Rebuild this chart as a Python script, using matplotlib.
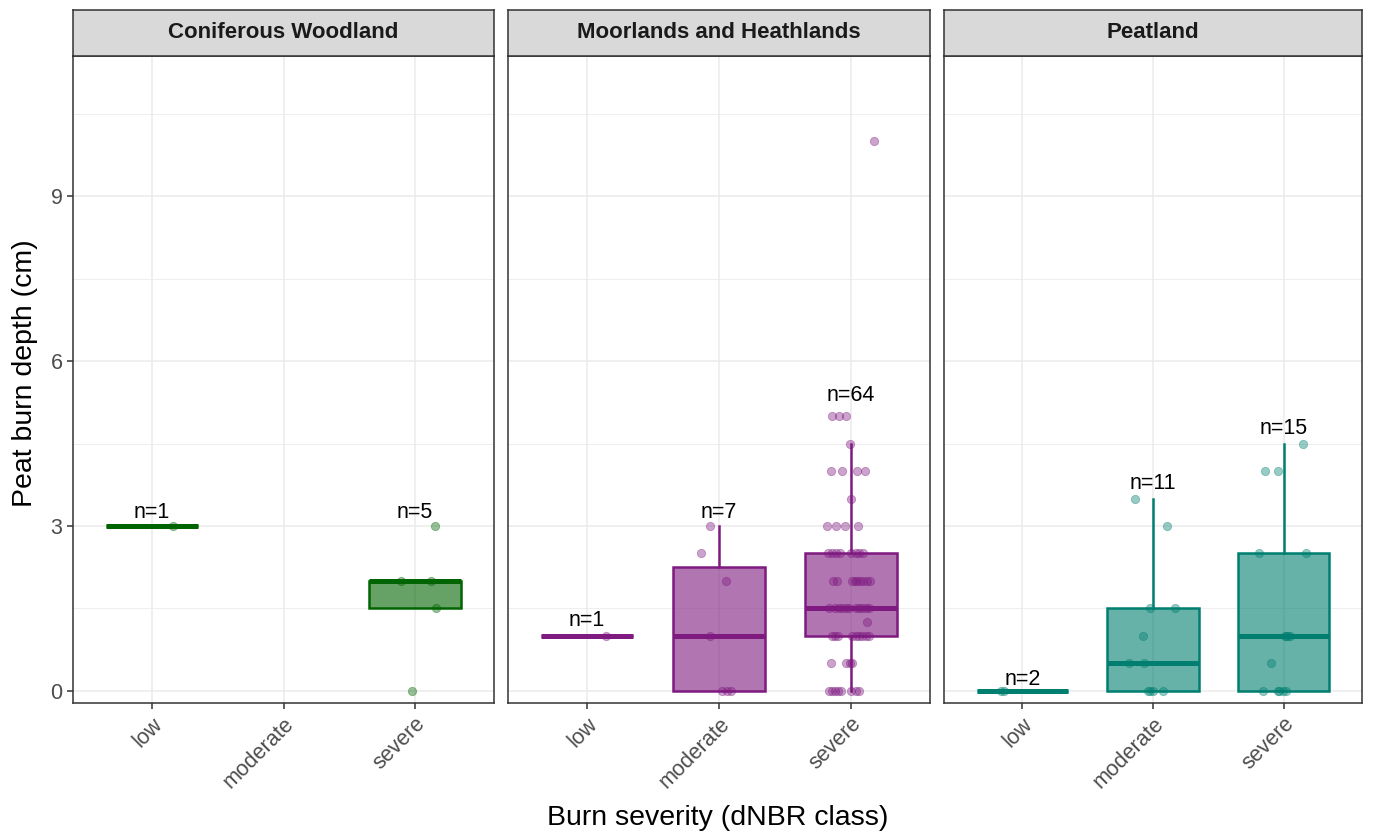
import numpy as np
import matplotlib
matplotlib.use("Agg")
import matplotlib.pyplot as plt

plt.rcParams['font.family'] = ['Liberation Sans', 'DejaVu Sans']

# ---- data ----
classes = ["low", "moderate", "severe"]
habitats = ["Coniferous Woodland", "Moorlands and Heathlands", "Peatland"]
colors = {"Coniferous Woodland": "#006400",
          "Moorlands and Heathlands": "#7E1A80",
          "Peatland": "#007F70"}

# depth values per habitat / class
conif_low = [3.0]
conif_severe = [3.0, 2.0, 2.0, 1.5, 0.0]
moor_low = [1.0]
moor_moderate = [3.0, 2.5, 2.0, 1.0, 0.0, 0.0, 0.0]
moor_severe = ([10.0] + [5.0] * 3 + [4.5] + [4.0] * 4 + [3.5] + [3.0] * 4 +
               [2.5] * 8 + [2.0] * 9 + [1.5] * 11 + [1.25] + [1.0] * 9 +
               [0.5] * 4 + [0.0] * 8)
peat_low = [0.0, 0.0]
peat_moderate = [3.5, 3.0, 1.5, 1.5, 1.0, 0.5, 0.5, 0.0, 0.0, 0.0, 0.0]
peat_severe = [4.5, 4.0, 4.0, 2.5, 2.5, 1.0, 1.0, 1.0, 1.0, 0.5,
               0.0, 0.0, 0.0, 0.0, 0.0]

# horizontal jitter of each point (category units), as seen in the picture
conif_low_jit = [0.16]
conif_severe_jit = [0.15, -0.11, 0.12, 0.16, -0.02]
moor_low_jit = [0.14]
moor_moderate_jit = [-0.07, -0.14, 0.05, -0.07, 0.02, 0.06, 0.09]
moor_severe_jit = ([0.174] + [-0.144, -0.091, -0.038] + [-0.008] +
                   [-0.152, -0.068, 0.045, 0.106] + [0.0] +
                   [-0.182, -0.114, -0.045, 0.053] +
                   [-0.174, -0.144, -0.114, -0.083, 0.0, 0.038, 0.061, 0.091] +
                   [-0.136, -0.106, 0.008, 0.030, 0.045, 0.068, 0.091, 0.121, 0.144] +
                   [-0.167, -0.121, -0.091, -0.068, -0.038, -0.015, 0.038, 0.061,
                    0.083, 0.114, 0.136] +
                   [0.121] +
                   [-0.144, -0.121, -0.098, 0.008, 0.038, 0.061, 0.083, 0.114, 0.136] +
                   [-0.152, -0.038, -0.008, 0.008] +
                   [-0.167, -0.144, -0.121, -0.098, -0.076, 0.0, 0.038, 0.061])
peat_low_jit = [-0.16, -0.14]
peat_moderate_jit = [-0.14, 0.11, -0.02, 0.17, -0.08, -0.18, -0.07, -0.04, -0.02, 0.0, 0.08]
peat_severe_jit = [0.15, -0.14, -0.04, -0.19, 0.17, 0.015, 0.03, 0.045, 0.008, -0.10,
                   -0.16, -0.045, -0.038, -0.008, 0.015]

groups = {
    "Coniferous Woodland": {"low": (conif_low, conif_low_jit),
                            "severe": (conif_severe, conif_severe_jit)},
    "Moorlands and Heathlands": {"low": (moor_low, moor_low_jit),
                                 "moderate": (moor_moderate, moor_moderate_jit),
                                 "severe": (moor_severe, moor_severe_jit)},
    "Peatland": {"low": (peat_low, peat_low_jit),
                 "moderate": (peat_moderate, peat_moderate_jit),
                 "severe": (peat_severe, peat_severe_jit)},
}

# y position of the "n=" labels
label_y = {
    "Coniferous Woodland": {"low": 3.25, "severe": 3.25},
    "Moorlands and Heathlands": {"low": 1.29, "moderate": 3.25, "severe": 5.38},
    "Peatland": {"low": 0.2, "moderate": 3.78, "severe": 4.78},
}

y_ticks = [0, 3, 6, 9]
y_minor = [1.5, 4.5, 7.5, 10.5]

# ---- figure ----
fig = plt.figure(figsize=(13.74, 8.35), dpi=100)

panel_left = [73, 508, 944]
panel_right = [494, 930, 1362]
W, H = 1374.0, 835.0
p_top, p_bot, s_top = 55.5, 703.0, 10.0

for k, hab in enumerate(habitats):
    x0 = panel_left[k] / W
    w = (panel_right[k] - panel_left[k]) / W
    ax = fig.add_axes([x0, 1 - p_bot / H, w, (p_bot - p_top) / H])
    strip = fig.add_axes([x0, 1 - p_top / H, w, (p_top - s_top) / H])
    col = colors[hab]

    ax.set_xlim(0.4, 3.6)
    ax.set_ylim(-0.22, 11.56)
    ax.set_xticks([1, 2, 3])
    ax.set_yticks(y_ticks)
    ax.set_yticks(y_minor, minor=True)
    ax.grid(which="major", color="#EBEBEB", lw=1.1, zorder=0)
    ax.grid(which="minor", axis="y", color="#EBEBEB", lw=0.6, zorder=0)
    ax.set_axisbelow(True)
    for sp in ax.spines.values():
        sp.set_color("#333333")
        sp.set_linewidth(1.1)
    ax.tick_params(which="major", length=4, color="#333333", width=1.1,
                   labelsize=15.5, labelcolor="#4D4D4D")
    ax.tick_params(which="minor", length=0)
    ax.set_xticklabels(classes, rotation=45, ha="right", va="top",
                       rotation_mode="anchor")
    if k > 0:
        ax.tick_params(axis="y", which="both", left=False, labelleft=False)

    for i, cls in enumerate(classes):
        if cls not in groups[hab]:
            continue
        vals, jit = groups[hab][cls]
        pos = i + 1
        bp = ax.boxplot([vals], positions=[pos], widths=0.7, whis=1.5,
                        showfliers=False, showcaps=False, patch_artist=True,
                        manage_ticks=False)
        for b in bp["boxes"]:
            b.set_facecolor(matplotlib.colors.to_rgba(col, 0.6))
            b.set_edgecolor(col)
            b.set_linewidth(1.8)
            b.set_zorder(2)
        for wl in bp["whiskers"]:
            wl.set_color(col)
            wl.set_linewidth(1.8)
            wl.set_zorder(2)
        for m in bp["medians"]:
            m.set_color(col)
            m.set_linewidth(3.6)
            m.set_solid_capstyle("butt")
            m.set_zorder(3)
        ax.scatter(pos + np.array(jit), vals, s=36, color=col, alpha=0.4,
                   edgecolors=col, linewidths=0.6, zorder=4)
        ax.text(pos, label_y[hab][cls], "n=%d" % len(vals), ha="center",
                va="center", fontsize=15.5, color="black", zorder=5)

    strip.set_xticks([])
    strip.set_yticks([])
    strip.set_facecolor("#D9D9D9")
    for sp in strip.spines.values():
        sp.set_color("#333333")
        sp.set_linewidth(1.1)
    strip.text(0.5, 0.5, hab, ha="center", va="center", fontsize=16,
               fontweight="bold", color="#1A1A1A", transform=strip.transAxes)

fig.text(25 / W, 1 - 373 / H, "Peat burn depth (cm)", rotation=90,
         ha="center", va="center", fontsize=20.5)
fig.text(718 / W, 1 - 818 / H, "Burn severity (dNBR class)",
         ha="center", va="center", fontsize=20.5)

fig.savefig("out.png", dpi=100)
